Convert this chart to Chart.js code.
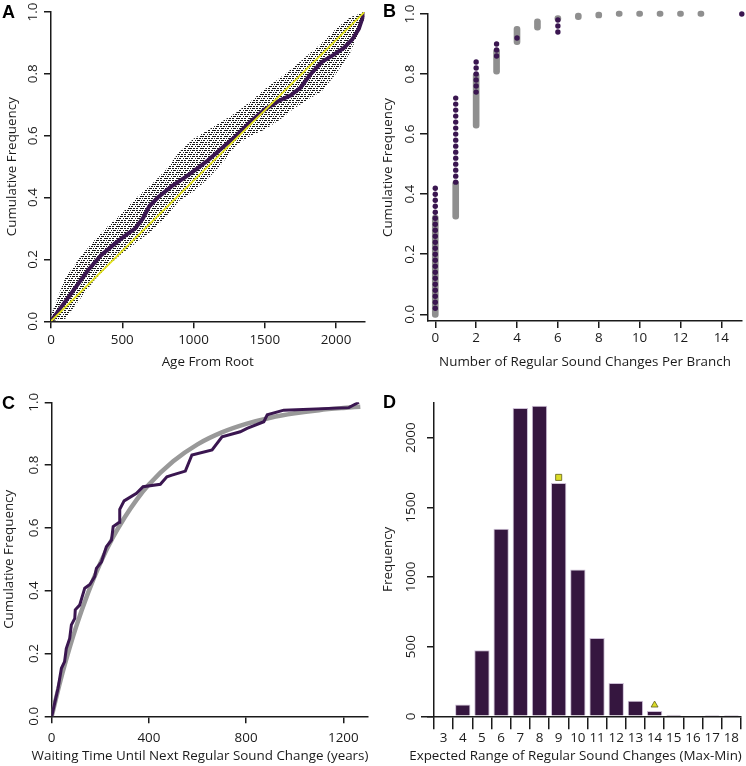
<!DOCTYPE html>
<html>
<head>
<meta charset="utf-8">
<script src="https://cdn.jsdelivr.net/npm/chart.js@4.4.1/dist/chart.umd.min.js"></script>
<style>
    body { margin: 0; background: #fff; width: 746px; height: 766px; position: relative; overflow: hidden; }
    .panel { position: absolute; width: 373px; height: 383px; }
    .tag { position: absolute; font: bold 18px "Liberation Sans", Arial, sans-serif; line-height: 18px; color: #000; }
</style>
</head>
<body>
<div class="panel" style="left:0;top:0"><canvas id="chartA" width="373" height="383"></canvas></div>
<div class="panel" style="left:373px;top:0"><canvas id="chartB" width="373" height="383"></canvas></div>
<div class="panel" style="left:0;top:383px"><canvas id="chartC" width="373" height="383"></canvas></div>
<div class="panel" style="left:373px;top:383px"><canvas id="chartD" width="373" height="383"></canvas></div>
<div class="tag" style="left:2px;top:2.5px">A</div>
<div class="tag" style="left:383px;top:1.5px">B</div>
<div class="tag" style="left:2px;top:393.5px">C</div>
<div class="tag" style="left:383px;top:392.5px">D</div>
<script>
// === A: cumulative frequency of node ages ===
const ageGrid = [0, 100, 200, 300, 400, 500, 600, 700, 800, 900, 1000, 1100, 1200, 1300, 1400, 1500, 1600, 1700, 1800, 1900, 2000, 2100, 2200];
const cloudUpper = [0.02, 0.14, 0.205, 0.26, 0.308, 0.35, 0.40, 0.44, 0.487, 0.547, 0.59, 0.618, 0.646, 0.675, 0.711, 0.75, 0.785, 0.82, 0.86, 0.90, 0.946, 0.983, 1.0];
const cloudLower = [0.0, 0.008, 0.07, 0.13, 0.18, 0.22, 0.255, 0.29, 0.335, 0.39, 0.42, 0.46, 0.51, 0.57, 0.60, 0.62, 0.65, 0.686, 0.716, 0.744, 0.80, 0.868, 0.98];
const obsAge = [0, 70, 165, 260, 350, 450, 530, 590, 645, 690, 750, 845, 940, 1030, 1100, 1200, 1300, 1400, 1500, 1600, 1680, 1750, 1820, 1900, 1985, 2055, 2115, 2160, 2200];
const obsAgeFreq = [0, 0.045, 0.105, 0.165, 0.213, 0.252, 0.28, 0.30, 0.333, 0.372, 0.40, 0.436, 0.465, 0.495, 0.52, 0.56, 0.60, 0.645, 0.685, 0.713, 0.73, 0.755, 0.798, 0.838, 0.862, 0.884, 0.912, 0.945, 1.0];
const uniformAge = [0, 2200];
const uniformFreq = [0, 1];
const ageTicks = [0, 500, 1000, 1500, 2000];
const freqTicks = [0, 0.2, 0.4, 0.6, 0.8, 1.0];

// === B: changes per branch ===
const obsCounts = [0, 1, 2, 3, 4, 6, 15];
const obsCumFreq = [
    [0.02, 0.04, 0.06, 0.08, 0.10, 0.12, 0.14, 0.16, 0.18, 0.20, 0.22, 0.24, 0.26, 0.28, 0.30, 0.32, 0.34, 0.36, 0.38, 0.40, 0.42],
    [0.44, 0.46, 0.48, 0.50, 0.52, 0.54, 0.56, 0.58, 0.60, 0.62, 0.64, 0.66, 0.68, 0.70, 0.72],
    [0.74, 0.76, 0.78, 0.80, 0.82, 0.84],
    [0.86, 0.88, 0.90],
    [0.92],
    [0.94, 0.96, 0.98],
    [1.0]
];
const simCounts = [0, 1, 2, 3, 4, 5, 6, 7, 8, 9, 10, 11, 12, 13];
const simLow = [-0.01, 0.317, 0.62, 0.80, 0.898, 0.946, 0.975, 0.981, 0.987, 0.992, 0.992, 0.992, 0.992, 0.992];
const simHigh = [0.33, 0.445, 0.805, 0.885, 0.959, 0.984, 0.995, 1.003, 1.006, 1.01, 1.01, 1.01, 1.01, 1.01];
const countTicks = [0, 2, 4, 6, 8, 10, 12, 14];

// === C: waiting times ===
const waitTime = [0, 26, 40, 53, 60, 74, 81, 95, 97, 115, 136, 157, 177, 184, 205, 225, 246, 253, 278, 280, 298, 349, 376, 447, 474, 495, 550, 577, 660, 701, 776, 804, 873, 887, 955, 1223, 1264];
const waitCumFreq = [0, 0.089, 0.153, 0.174, 0.216, 0.248, 0.291, 0.312, 0.339, 0.354, 0.408, 0.42, 0.445, 0.471, 0.492, 0.54, 0.561, 0.604, 0.618, 0.659, 0.686, 0.71, 0.731, 0.739, 0.763, 0.768, 0.781, 0.832, 0.848, 0.89, 0.906, 0.917, 0.938, 0.96, 0.975, 0.983, 1.0];
const fitTime = [0, 25, 50, 100, 150, 200, 250, 300, 350, 400, 500, 600, 700, 800, 900, 1000, 1100, 1200, 1270];
const fitCumFreq = [0, 0.08, 0.154, 0.284, 0.394, 0.488, 0.567, 0.633, 0.69, 0.738, 0.812, 0.866, 0.904, 0.931, 0.951, 0.965, 0.975, 0.982, 0.986];
const waitTicks = [0, 400, 800, 1200];

// === D: expected range ===
const rangeLabels = ["3", "4", "5", "6", "7", "8", "9", "10", "11", "12", "13", "14", "15", "16", "17", "18"];
const rangeFreq = [5, 84, 474, 1347, 2213, 2230, 1675, 1053, 562, 239, 112, 38, 12, 5, 3, 2];
const squareRange = "9", squareFreq = 1715;
const triangleRange = "14", triangleFreq = 81;
const rangeFreqTicks = [0, 500, 1000, 1500, 2000];

const PURPLE = "#3a1650";
const BAR = "#35163f";
const GRAY = "#8f8f8f";
const YELLOW = "#e2e21e";
const AXIS = "#1a1a1a";
const TEXT = "#1a1a1a";
const FONT = { family: '"Open Sans", sans-serif', size: 13.4 };

const xy = (xs, ys) => xs.map((x, i) => ({ x: x, y: ys[i] }));
const fixTicks = vals => scale => { scale.ticks = vals.map(v => ({ value: v })); };
const plain = v => String(v);
const oneDec = v => v.toFixed(1);

function axis(o) {
    const horiz = o.pos === "x";
    const ticks = {
        font: FONT, color: TEXT, padding: o.pad, autoSkip: false,
        minRotation: horiz ? 0 : 90, maxRotation: horiz ? 0 : 90,
        crossAlign: horiz ? "near" : "center"
    };
    if (o.fmt) ticks.callback = o.fmt;
    return {
        type: o.type || "linear",
        min: o.min, max: o.max,
        offset: !!o.offset,
        afterBuildTicks: o.ticks ? fixTicks(o.ticks) : undefined,
        afterFit: s => { if (horiz) s.height = o.size; else s.width = o.size; },
        border: { color: AXIS, width: 1.5 },
        grid: { drawOnChartArea: false, drawTicks: true, tickLength: o.tickLen, color: AXIS, lineWidth: 1.5, offset: !!o.offset },
        ticks: ticks,
        title: o.title ? { display: true, text: o.title, font: FONT, color: TEXT, padding: o.titlePad } : { display: false }
    };
}

const base = {
    responsive: false,
    animation: false,
    events: [],
    plugins: { legend: { display: false }, tooltip: { enabled: false } }
};

// x title drawn without the scale's width limit
const outerTitle = {
    id: "outerTitle",
    afterDraw(chart, args, opts) {
        if (!opts.text) return;
        const ctx = chart.ctx;
        ctx.save();
        ctx.font = '13.4px "Open Sans", sans-serif';
        ctx.fillStyle = TEXT;
        ctx.textAlign = "center";
        ctx.textBaseline = "middle";
        ctx.fillText(opts.text, opts.x, opts.y);
        ctx.restore();
    }
};

// short stretch of x axis line left of the y axis (panel D)
const axisStub = {
    id: "axisStub",
    afterDraw(chart, args, opts) {
        if (!opts.length) return;
        const ctx = chart.ctx;
        const left = chart.chartArea.left;
        const y = Math.round(chart.scales.x.top - 0.75) + 0.75;
        ctx.save();
        ctx.strokeStyle = AXIS;
        ctx.lineWidth = 1.5;
        ctx.beginPath();
        ctx.moveTo(left - opts.length, y);
        ctx.lineTo(left, y);
        ctx.stroke();
        ctx.restore();
    }
};
Chart.register(outerTitle, axisStub);

// speckled fill for the simulated cloud in panel A
function dotPattern(canvas) {
    const tile = document.createElement("canvas");
    tile.width = 12; tile.height = 6;
    const t = tile.getContext("2d");
    t.fillStyle = "rgba(0,0,0,0.9)";
    [[0, 0], [1, 0], [2, 0], [4, 0], [5, 0], [7, 0], [8, 0], [10, 0],
     [3, 2], [5, 2], [6, 2], [7, 2], [9, 2], [11, 2], [0, 2],
     [1, 4], [2, 4], [4, 4], [5, 4], [8, 4], [9, 4], [10, 4], [11, 4]].forEach(p => t.fillRect(p[0], p[1], 1, 1));
    return canvas.getContext("2d").createPattern(tile, "repeat");
}

// === Panel A ===
const canvasA = document.getElementById("chartA");
new Chart(canvasA, {
    type: "scatter",
    data: {
        datasets: [
            { data: xy(ageGrid, cloudUpper), showLine: true, borderWidth: 0, pointRadius: 0, fill: false, order: 4 },
            { data: xy(ageGrid, cloudLower), showLine: true, borderWidth: 0, pointRadius: 0, fill: "-1", backgroundColor: dotPattern(canvasA), order: 3 },
            { data: xy(obsAge, obsAgeFreq), showLine: true, borderColor: PURPLE, borderWidth: 4, pointRadius: 0, order: 2 },
            { data: xy(uniformAge, uniformFreq), showLine: true, borderColor: YELLOW, borderWidth: 1.8, pointRadius: 0, order: 1 }
        ]
    },
    options: Object.assign({}, base, {
        layout: { padding: { top: 12, right: 8.5, bottom: 0, left: 0 } },
        scales: {
            x: axis({ pos: "x", min: 0, max: 2200, ticks: ageTicks, size: 61.7, tickLen: 7, pad: 4, fmt: plain,
                      title: "Age From Root", titlePad: { top: 0, bottom: 12.5 } }),
            y: axis({ pos: "y", min: 0, max: 1, ticks: freqTicks, size: 51, tickLen: 7, pad: 1.3, fmt: oneDec,
                      title: "Cumulative Frequency", titlePad: { top: 4, bottom: 0 } })
        }
    })
});

// === Panel B ===
const obsPoints = [];
obsCounts.forEach((c, i) => obsCumFreq[i].forEach(f => obsPoints.push({ x: c, y: f })));
new Chart(document.getElementById("chartB"), {
    type: "scatter",
    data: {
        datasets: [
            { type: "bar", data: simCounts.map((c, i) => ({ x: c, y: [simLow[i], simHigh[i]] })),
              backgroundColor: GRAY, barThickness: 6, borderRadius: 3, borderSkipped: false, clip: false, order: 2 },
            { data: obsPoints, pointRadius: 2.7, backgroundColor: PURPLE, borderWidth: 0, clip: false, order: 1 }
        ]
    },
    options: Object.assign({}, base, {
        layout: { padding: { top: 14, right: 3, bottom: 0, left: 0 } },
        scales: {
            x: axis({ pos: "x", min: -0.356, max: 15.01, ticks: countTicks, size: 62, tickLen: 7, pad: 2.5, fmt: plain,
                      title: "Number of Regular Sound Changes Per Branch", titlePad: { top: 0, bottom: 12.5 } }),
            y: axis({ pos: "y", min: -0.0223, max: 1, ticks: freqTicks, size: 55, tickLen: 8, pad: 0.2, fmt: oneDec,
                      title: "Cumulative Frequency", titlePad: { top: 7.2, bottom: 0 } })
        }
    })
});

// === Panel C ===
new Chart(document.getElementById("chartC"), {
    type: "scatter",
    data: {
        datasets: [
            { data: xy(fitTime, fitCumFreq), showLine: true, borderColor: "#999999", borderWidth: 4.5, pointRadius: 0,
              cubicInterpolationMode: "monotone", order: 2 },
            { data: xy(waitTime, waitCumFreq), showLine: true, borderColor: PURPLE, borderWidth: 3, pointRadius: 0, order: 1 }
        ]
    },
    options: Object.assign({}, base, {
        layout: { padding: { top: 19.3, right: 5.4, bottom: 0, left: 0 } },
        plugins: Object.assign({}, base.plugins, {
            outerTitle: { text: "Waiting Time Until Next Regular Sound Change (years)", x: 200, y: 373 }
        }),
        scales: {
            x: axis({ pos: "x", min: 0, max: 1300, ticks: waitTicks, size: 49.7, tickLen: 7, pad: 7.3, fmt: plain }),
            y: axis({ pos: "y", min: 0, max: 1, ticks: freqTicks, size: 51.7, tickLen: 7, pad: 1.3, fmt: oneDec,
                      title: "Cumulative Frequency", titlePad: { top: 1.4, bottom: 0 } })
        }
    })
});

// === Panel D ===
new Chart(document.getElementById("chartD"), {
    type: "bar",
    data: {
        labels: rangeLabels,
        datasets: [
            { data: rangeFreq, backgroundColor: BAR, borderColor: "#cdbfd6", borderWidth: 1,
              barPercentage: 0.8, categoryPercentage: 1, order: 3 },
            { type: "line", data: [{ x: squareRange, y: squareFreq }], showLine: false, pointStyle: "rect",
              pointRadius: 4.3, backgroundColor: "#dcdc28", borderColor: "#5e5e1c", borderWidth: 0.8, order: 1 },
            { type: "line", data: [{ x: triangleRange, y: triangleFreq }], showLine: false, pointStyle: "triangle",
              pointRadius: 4, backgroundColor: "#dcdc28", borderColor: "#5e5e1c", borderWidth: 0.8, order: 2 }
        ]
    },
    options: Object.assign({}, base, {
        layout: { padding: { top: 19.3, right: 5, bottom: 0, left: 0 } },
        plugins: Object.assign({}, base.plugins, {
            outerTitle: { text: "Expected Range of Regular Sound Changes (Max-Min)", x: 202.5, y: 373 },
            axisStub: { length: 13 }
        }),
        scales: {
            x: axis({ pos: "x", type: "category", offset: true, size: 49.7, tickLen: 13, pad: 1 }),
            y: axis({ pos: "y", min: 0, max: 2254, ticks: rangeFreqTicks, size: 61, tickLen: 7, pad: 0.5, fmt: plain,
                      title: "Frequency", titlePad: { top: 7.2, bottom: 0 } })
        }
    })
});
</script>
</body>
</html>
